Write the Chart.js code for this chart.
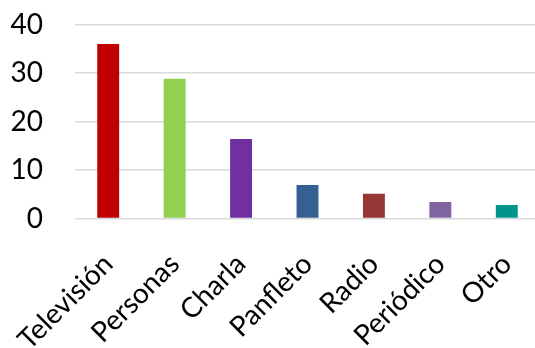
<!DOCTYPE html>
<html>
<head>
<meta charset="utf-8">
<script src="https://cdn.jsdelivr.net/npm/chart.js@4"></script>
<style>
    html, body { margin: 0; padding: 0; background: #fff; overflow: hidden; }
    #wrap { width: 540px; height: 348px; }
</style>
</head>
<body>
<div id="wrap"><canvas id="chart"></canvas></div>
<script>
const categories = ['Televisión', 'Personas', 'Charla', 'Panfleto', 'Radio', 'Periódico', 'Otro'];
const values = [36, 28.8, 16.4, 6.9, 5.1, 3.4, 2.8];
const barColors = ['#c00000', '#92d050', '#7030a0', '#366092', '#963634', '#8064a2', '#00948f'];
const yTicks = [0, 10, 20, 30, 40];

const ctx = document.getElementById('chart').getContext('2d');
new Chart(ctx, {
    type: 'bar',
    data: {
        labels: categories,
        datasets: [{
            data: values,
            backgroundColor: barColors,
            barPercentage: 1,
            categoryPercentage: 0.33
        }]
    },
    options: {
        responsive: true,
        maintainAspectRatio: false,
        animation: false,
        layout: { padding: { top: 24.5, right: 0, left: 0, bottom: 0 } },
        plugins: {
            legend: { display: false },
            tooltip: { enabled: false }
        },
        scales: {
            x: {
                grid: { display: false },
                border: { display: false },
                ticks: {
                    color: '#000',
                    font: { family: 'Lato', size: 28 },
                    minRotation: 45,
                    maxRotation: 45,
                    padding: 21
                },
                afterFit: function (scale) {
                    scale.height = 129.5;
                    scale.paddingLeft = 0;
                    scale.paddingRight = 0;
                }
            },
            y: {
                min: 0,
                max: 40,
                afterBuildTicks: function (scale) {
                    scale.ticks = yTicks.map(v => ({ value: v }));
                },
                grid: { color: '#d9d9d9', lineWidth: 1.5, drawTicks: false },
                border: { display: false },
                ticks: {
                    color: '#000',
                    font: { family: 'Lato', size: 28 },
                    padding: 32
                },
                afterFit: function (scale) {
                    scale.width = 75;
                    scale.paddingTop = 0;
                    scale.paddingBottom = 0;
                }
            }
        }
    }
});
</script>
</body>
</html>
